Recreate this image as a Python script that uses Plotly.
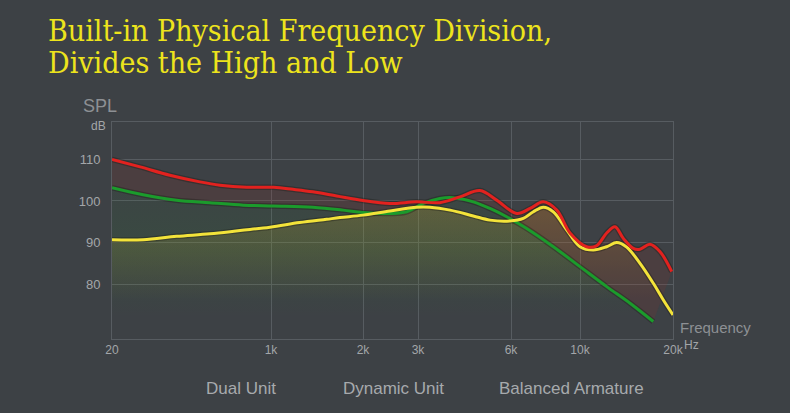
import numpy as np
import plotly.graph_objects as go

# ---- data ----
TICK_HZ = [20, 1000, 2000, 3000, 6000, 10000, 20000]
TICK_TEXT = ["20", "1k", "2k", "3k", "6k", "10k", "20k"]
# the chart's frequency axis is log-like but compresses 20 Hz..1 kHz
TICK_POS = [0, 159, 251, 306, 399, 468, 561]

Y_TICKS = [80, 90, 100, 110]

red_hz = [20, 40, 83, 174, 285, 550, 1020, 1180, 1370, 1640, 2000, 2440, 2970,
          3530, 4100, 4760, 5390, 6260, 6910, 7620, 8420, 9290, 10500, 11300,
          12200, 12980, 13810, 14880, 15640, 16850, 18160, 19810]
red_db = [110.0, 108.2, 106.2, 104.6, 103.8, 103.3, 103.3, 102.8, 102.2, 101.2,
          100.1, 99.4, 99.8, 99.6, 101.0, 102.5, 100.2, 97.0, 98.2, 99.8, 97.8,
          92.3, 89.0, 89.2, 92.3, 93.8, 91.0, 88.6, 88.4, 89.6, 87.8, 83.0]

green_hz = [20, 43, 98, 223, 506, 1020, 1370, 1720, 2000, 2440, 2760, 3120, 3530,
            3900, 4530, 5130, 5810, 6740, 8210, 10000, 12200, 14520, 17270]
green_db = [103.2, 101.5, 100.2, 99.6, 99.0, 98.8, 98.5, 97.8, 97.2, 97.0, 97.4,
            99.4, 100.6, 100.8, 99.8, 98.2, 96.2, 93.4, 89.0, 84.2, 79.4, 75.4, 71.0]

yellow_hz = [20, 43, 98, 223, 467, 975, 1240, 1520, 1680, 2000, 2440, 2970, 3280,
             3810, 4530, 5130, 5950, 6570, 7080, 7620, 8210, 9070, 10000, 11040,
             12200, 13150, 14160, 15640, 17270, 18610, 20000]
yellow_db = [90.7, 90.7, 91.5, 92.1, 92.9, 93.7, 94.8, 95.6, 96.0, 96.6, 97.6, 98.5,
             98.5, 97.8, 96.4, 95.4, 95.2, 95.8, 97.4, 98.5, 97.4, 93.0, 89.0, 88.2,
             89.0, 90.0, 88.9, 85.0, 80.2, 76.2, 72.6]

BAND_LABELS = ["Dual Unit", "Dynamic Unit", "Balanced Armature"]
BAND_CENTER_HZ = [480, 2500, 9400]


def to_axis(f):
    return np.interp(np.log10(np.asarray(f, dtype=float)), np.log10(TICK_HZ), TICK_POS)


BG = "#3d4145"
GRID = "#575c61"
TXT = "#a3a6a9"
LBL = "#8d9094"

rx, gx, yx = to_axis(red_hz), to_axis(green_hz), to_axis(yellow_hz)

fig = go.Figure()

# yellow haze
fig.add_trace(go.Scatter(
    x=yx, y=yellow_db, mode="lines", line=dict(width=0, shape="spline"),
    fill="tozeroy",
    fillgradient=dict(type="vertical", start=76, stop=99,
                      colorscale=[[0, "rgba(200,165,45,0)"], [1, "rgba(200,165,45,0.27)"]]),
    hoverinfo="skip", showlegend=False))
# green haze
fig.add_trace(go.Scatter(
    x=gx, y=green_db, mode="lines", line=dict(width=0, shape="spline"),
    fill="tozeroy",
    fillgradient=dict(type="vertical", start=72, stop=101,
                      colorscale=[[0, "rgba(30,150,40,0)"], [0.55, "rgba(30,150,40,0.11)"],
                                  [1, "rgba(30,150,40,0.05)"]]),
    hoverinfo="skip", showlegend=False))
# red band between red and green
fig.add_trace(go.Scatter(
    x=gx, y=green_db, mode="lines", line=dict(width=0, shape="spline"),
    hoverinfo="skip", showlegend=False))
fig.add_trace(go.Scatter(
    x=rx, y=red_db, mode="lines", line=dict(width=0, shape="spline"),
    fill="tonexty", fillcolor="rgba(150,45,40,0.17)",
    hoverinfo="skip", showlegend=False))

# lines (dark soft edge under each line)
for xs, ys in ((gx, green_db), (yx, yellow_db), (rx, red_db)):
    fig.add_trace(go.Scatter(x=xs, y=ys, mode="lines", hoverinfo="skip",
                             line=dict(color="rgba(25,25,20,0.35)", width=5.5, shape="spline"),
                             showlegend=False))
fig.add_trace(go.Scatter(x=gx, y=green_db, mode="lines",
                         line=dict(color="#1b9b2c", width=3, shape="spline"), showlegend=False))
fig.add_trace(go.Scatter(x=yx, y=yellow_db, mode="lines",
                         line=dict(color="#f3e33a", width=3, shape="spline"), showlegend=False))
fig.add_trace(go.Scatter(x=rx, y=red_db, mode="lines",
                         line=dict(color="#e2221f", width=3, shape="spline"), showlegend=False))

W, H = 790, 413
L, R, T, B = 112, 117, 122, 74
pw, ph = W - L - R, H - T - B


def px(xp):
    return (xp - L) / pw


def py(yp):
    return (H - B - yp) / ph


TITLE_FONT = dict(family="DejaVu Serif Condensed, Liberation Serif, serif", size=30, color="#ede41c")
ann = []
ann.append(dict(text="Built-in Physical Frequency Division,", x=px(46), y=py(31),
                xanchor="left", yanchor="middle", font=TITLE_FONT))
ann.append(dict(text="Divides the High and Low", x=px(46), y=py(63),
                xanchor="left", yanchor="middle", font=TITLE_FONT))
ann.append(dict(text="SPL", x=px(81), y=py(106), xanchor="left", yanchor="middle",
                font=dict(family="Liberation Sans", size=18, color=LBL)))
ann.append(dict(text="dB", x=px(108), y=py(126), xanchor="right", yanchor="middle",
                font=dict(family="Liberation Sans", size=12, color=TXT)))
ann.append(dict(text="Frequency", x=px(678), y=py(327), xanchor="left", yanchor="middle",
                font=dict(family="Liberation Sans", size=15, color=LBL)))
ann.append(dict(text="Hz", x=px(682), y=py(345), xanchor="left", yanchor="middle",
                font=dict(family="Liberation Sans", size=12, color=TXT)))
for lab, f in zip(BAND_LABELS, BAND_CENTER_HZ):
    ann.append(dict(text=lab, x=float(to_axis(f)), xref="x", y=py(388), xanchor="center",
                    yanchor="middle",
                    font=dict(family="Liberation Sans", size=17, color="#a7aaad")))
for a in ann:
    a.setdefault("xref", "paper")
    a["yref"] = "paper"
    a["showarrow"] = False

fig.update_layout(
    width=W, height=H,
    margin=dict(l=L, r=R, t=T, b=B),
    paper_bgcolor=BG, plot_bgcolor=BG,
    annotations=ann,
    xaxis=dict(range=[0, 561], tickvals=TICK_POS, ticktext=TICK_TEXT,
               showgrid=True, gridcolor=GRID, gridwidth=1, zeroline=False,
               showline=True, mirror=True, linecolor=GRID, linewidth=1,
               ticks="", tickfont=dict(family="Liberation Sans", size=12, color=TXT)),
    yaxis=dict(range=[66.8, 119], tickvals=Y_TICKS,
               showgrid=True, gridcolor=GRID, gridwidth=1, zeroline=False,
               showline=True, mirror=True, linecolor=GRID, linewidth=1,
               ticks="", ticklabelstandoff=8,
               tickfont=dict(family="Liberation Sans", size=13, color=TXT)),
)

fig.write_html("out.html")
